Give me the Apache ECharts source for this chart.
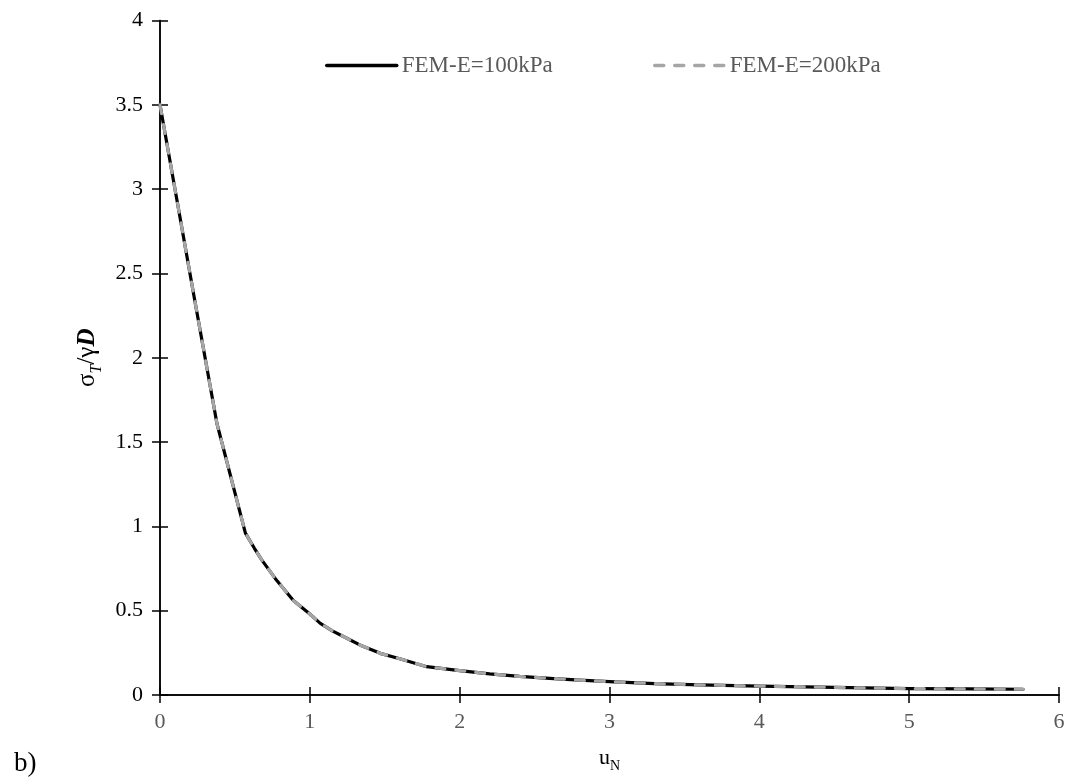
<!DOCTYPE html>
<html>
<head>
<meta charset="utf-8">
<script src="https://cdn.jsdelivr.net/npm/echarts@6/dist/echarts.min.js"></script>
<style>html,body{margin:0;padding:0;background:#fff}#c{width:1071px;height:783px}</style>
</head>
<body>
<div id="c"></div>
<script>
const uN = [0, 0.23, 0.38, 0.57, 0.63, 0.68, 0.77, 0.89, 1.0, 1.07, 1.15, 1.25, 1.35, 1.47, 1.6, 1.78, 2.0, 2.2, 2.4, 2.6, 2.8, 3.0, 3.3, 3.6, 4.0, 4.5, 5.0, 5.4, 5.76];
const sigE100 = [3.5, 2.35, 1.61, 0.96, 0.87, 0.80, 0.69, 0.56, 0.48, 0.425, 0.38, 0.335, 0.29, 0.247, 0.215, 0.168, 0.145, 0.125, 0.11, 0.099, 0.088, 0.079, 0.068, 0.06, 0.053, 0.045, 0.038, 0.036, 0.034];
const sigE200 = [3.5, 2.35, 1.61, 0.96, 0.87, 0.80, 0.69, 0.56, 0.48, 0.425, 0.38, 0.335, 0.29, 0.247, 0.215, 0.168, 0.145, 0.125, 0.11, 0.099, 0.088, 0.079, 0.068, 0.06, 0.053, 0.045, 0.038, 0.036, 0.034];
const seriesNames = ['FEM-E=100kPa', 'FEM-E=200kPa'];
const xTicks = [0, 1, 2, 3, 4, 5, 6];
const yTicks = [0, 0.5, 1, 1.5, 2, 2.5, 3, 3.5, 4];

const FONT = '"Liberation Serif", "Times New Roman", serif';
const chart = echarts.init(document.getElementById('c'));
const pair = (xs, ys) => xs.map((x, i) => [x, ys[i]]);

const baseX = {
  type: 'value', position: 'bottom', min: xTicks[0], max: xTicks[xTicks.length - 1], interval: 1,
  splitLine: { show: false },
  axisLine: { show: true, onZero: false, lineStyle: { color: '#000', width: 1.5 } }
};
const baseY = {
  type: 'value', position: 'left', min: yTicks[0], max: yTicks[yTicks.length - 1], interval: 0.5,
  splitLine: { show: false },
  axisLine: { show: true, onZero: false, lineStyle: { color: '#000', width: 1.5 } }
};
const legendText = { fontFamily: FONT, fontSize: 23, color: '#595959' };

chart.setOption({
  animation: false,
  backgroundColor: '#fff',
  textStyle: { fontFamily: FONT },
  grid: { left: 160, right: 12, top: 20.5, bottom: 88, containLabel: false },
  legend: [
    { data: [seriesNames[0]], left: 320, top: 49, itemWidth: 70, itemHeight: 14, itemGap: 0,
      itemStyle: { opacity: 0 }, lineStyle: { width: 3.5 }, textStyle: legendText },
    { data: [seriesNames[1]], left: 648, top: 49, itemWidth: 70, itemHeight: 14, itemGap: 0,
      itemStyle: { opacity: 0 }, lineStyle: { width: 3.5 }, textStyle: legendText }
  ],
  xAxis: [
    Object.assign({}, baseX, {
      axisTick: { show: true, length: 8, lineStyle: { color: '#000', width: 1.5 } },
      axisLabel: { margin: 16, fontFamily: FONT, fontSize: 22, color: '#595959',
        formatter: v => xTicks.includes(v) ? String(v) : '' },
      name: '{u|u}{sub|N}', nameLocation: 'middle', nameGap: 50,
      nameTextStyle: { rich: {
        u: { fontFamily: FONT, fontSize: 22, color: '#000', verticalAlign: 'bottom', lineHeight: 24 },
        sub: { fontFamily: FONT, fontSize: 14, color: '#000', verticalAlign: 'bottom', lineHeight: 16, padding: [0, 0, -4, 0] }
      } }
    }),
    Object.assign({}, baseX, {
      axisTick: { show: true, inside: true, length: 8, lineStyle: { color: '#000', width: 1.5 } },
      axisLabel: { show: false }
    })
  ],
  yAxis: [
    Object.assign({}, baseY, {
      axisTick: { show: true, length: 8, lineStyle: { color: '#000', width: 1.5 } },
      axisLabel: { margin: 17, fontFamily: FONT, fontSize: 22, color: '#000',
        formatter: v => yTicks.includes(v) ? String(v) : '' },
      name: '{s|σ}{t|T}{s|/γ}{d|D}', nameLocation: 'middle', nameGap: 58, nameRotate: 90,
      nameTextStyle: { rich: {
        s: { fontFamily: FONT, fontSize: 25, color: '#000', verticalAlign: 'bottom', lineHeight: 27 },
        t: { fontFamily: FONT, fontSize: 16, fontStyle: 'italic', color: '#000', verticalAlign: 'bottom', lineHeight: 18, padding: [0, 0, -5, 0] },
        d: { fontFamily: FONT, fontSize: 25, fontStyle: 'italic', fontWeight: 'bold', color: '#000', verticalAlign: 'bottom', lineHeight: 27 }
      } }
    }),
    Object.assign({}, baseY, {
      axisTick: { show: true, inside: true, length: 8, lineStyle: { color: '#000', width: 1.5 } },
      axisLabel: { show: false }
    })
  ],
  graphic: [
    { type: 'text', left: 14, top: 750, style: { text: 'b)', fontFamily: FONT, fontSize: 27, fill: '#000' } }
  ],
  series: [
    { name: seriesNames[0], type: 'line', data: pair(uN, sigE100), symbol: 'none', z: 2,
      lineStyle: { color: '#000', width: 3.2, cap: 'round', join: 'round' },
      itemStyle: { color: '#000' } },
    { name: seriesNames[1], type: 'line', data: pair(uN, sigE200), symbol: 'none', z: 3,
      lineStyle: { color: '#a6a6a6', width: 3.2, type: [9, 11], cap: 'round', join: 'round' },
      itemStyle: { color: '#a6a6a6' } }
  ]
});
</script>
</body>
</html>
